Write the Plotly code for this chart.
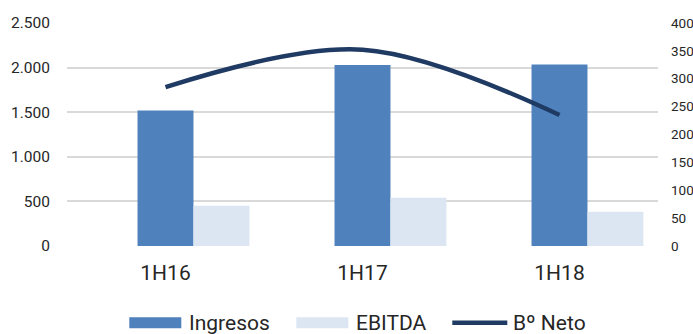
import plotly.graph_objects as go

categories = ["1H16", "1H17", "1H18"]
ingresos = [1520, 2030, 2035]
ebitda = [452, 541, 385]
bo_neto = [285, 352, 235]

left_ticks = [0, 500, 1000, 1500, 2000, 2500]
right_ticks = [0, 50, 100, 150, 200, 250, 300, 350, 400]

C_ING = "#4F81BD"
C_EBI = "#DCE6F2"
C_NET = "#1F3A63"
TXT = "#262626"
FONT = "Roboto"

fig = go.Figure()
fig.add_trace(go.Bar(x=categories, y=ingresos, name="Ingresos", marker=dict(color=C_ING, line=dict(width=0)),
                     width=0.284, offset=-0.142, showlegend=False))
fig.add_trace(go.Bar(x=categories, y=ebitda, name="EBITDA", marker=dict(color=C_EBI, line=dict(width=0)),
                     width=0.284, offset=0.142, showlegend=False))
fig.add_trace(go.Scatter(x=categories, y=bo_neto, name="Bº Neto", mode="lines", yaxis="y2",
                         line=dict(color=C_NET, width=4.5, shape="spline", smoothing=1.0),
                         showlegend=False))

W, H = 693, 334
L, R, T, B = 66.7, 35.3, 23.3, 87.7
pw, ph = W - L - R, H - T - B

def px(x):
    return (x - L) / pw

def py(y):
    return (H - B - y) / ph

shapes = []
annotations = []
legend_items = [
    ("bar", C_ING, 129, 181, 186.7, "Ingresos"),
    ("bar", C_EBI, 296, 348, 354, "EBITDA"),
    ("line", C_NET, 452, 507, 510.5, "Bº Neto"),
]
cy = 323
for kind, col, x0, x1, tx, label in legend_items:
    if kind == "bar":
        shapes.append(dict(type="rect", xref="paper", yref="paper", x0=px(x0), x1=px(x1),
                           y0=py(cy + 5.5), y1=py(cy - 5.5), fillcolor=col, line=dict(width=0)))
    else:
        shapes.append(dict(type="line", xref="paper", yref="paper", x0=px(x0), x1=px(x1),
                           y0=py(cy), y1=py(cy), line=dict(color=col, width=4.5)))
    annotations.append(dict(xref="paper", yref="paper", x=px(tx), y=py(cy), text=label,
                            showarrow=False, xanchor="left", yanchor="middle",
                            font=dict(family=FONT, size=21, color=TXT)))

fig.update_layout(
    width=W, height=H,
    margin=dict(l=L, r=R, t=T, b=B, pad=0, autoexpand=False),
    paper_bgcolor="white", plot_bgcolor="white",
    barmode="overlay",
    separators=",.",
    showlegend=False,
    shapes=shapes,
    annotations=annotations,
    xaxis=dict(type="category", range=[-0.5, 2.5], showgrid=False, zeroline=False, showline=False,
               ticks="", ticklabelstandoff=12, automargin=False,
               tickfont=dict(family=FONT, size=21, color=TXT)),
    yaxis=dict(range=[0, 2500], tickvals=left_ticks, tickformat=",d", showgrid=True,
               gridcolor="#D9D9D9", gridwidth=2, zeroline=False, showline=False, ticks="",
               automargin=False,
               ticklabelstandoff=16, tickfont=dict(family=FONT, size=15.5, color=TXT)),
    yaxis2=dict(range=[0, 400], tickvals=right_ticks, overlaying="y", side="right", showgrid=False,
                zeroline=False, showline=False, ticks="", ticklabelstandoff=12, automargin=False,
                tickfont=dict(family=FONT, size=13.5, color=TXT)),
)

fig.write_html("out.html")
